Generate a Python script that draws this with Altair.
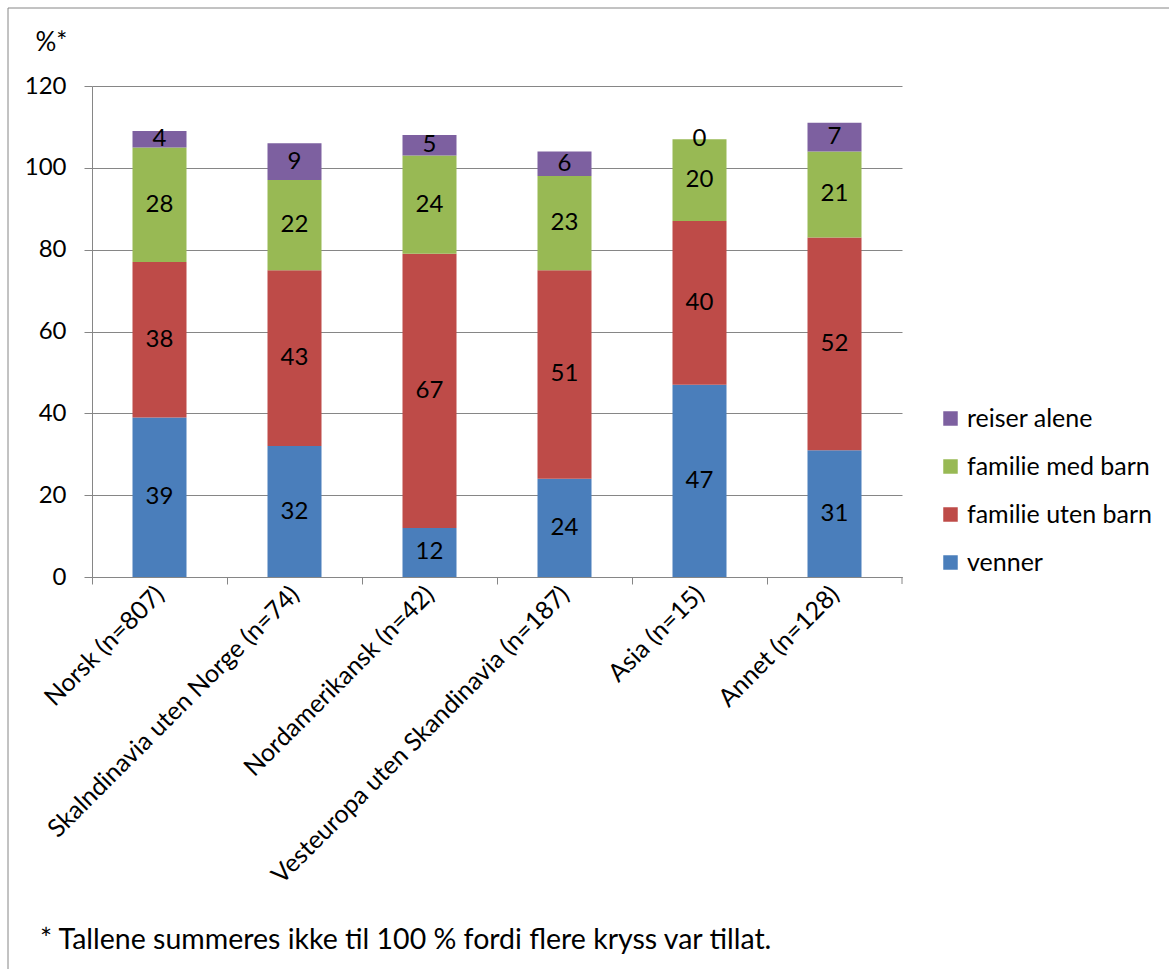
import altair as alt
import pandas as pd

categories = ["Norsk (n=807)", "Skalndinavia uten Norge (n=74)", "Nordamerikansk (n=42)",
              "Vesteuropa uten Skandinavia (n=187)", "Asia (n=15)", "Annet (n=128)"]
series = ["venner", "familie uten barn", "familie med barn", "reiser alene"]
venner = [39, 32, 12, 24, 47, 31]
uten_barn = [38, 43, 67, 51, 40, 52]
med_barn = [28, 22, 24, 23, 20, 21]
alene = [4, 9, 5, 6, 0, 7]
colors = {"venner": "#4A7EBB", "familie uten barn": "#BE4B48",
          "familie med barn": "#98B954", "reiser alene": "#7D60A0"}
footnote = "* Tallene summeres ikke til 100 % fordi flere kryss var tillat."
y_ticks = [0, 20, 40, 60, 80, 100, 120]

rows = []
values = [venner, uten_barn, med_barn, alene]
for ci, cat in enumerate(categories):
    base = 0
    for si, s in enumerate(series):
        v = values[si][ci]
        rows.append({"kategori": cat, "gruppe": s, "verdi": v, "rekke": si,
                     "y0": base, "y1": base + v, "mid": base + v / 2})
        base += v
df = pd.DataFrame(rows)

FONT = "Lato"
W, H = 810, 491
legend_order = list(reversed(series))

x_enc = alt.X("kategori:N", sort=categories, title=None,
              scale=alt.Scale(paddingInner=0.6, paddingOuter=0.3),
              axis=alt.Axis(labelAngle=-45, labelAlign="right", labelBaseline="middle",
                            labelFontSize=25, labelFont=FONT, labelColor="black",
                            labelPadding=6, labelLimit=700,
                            bandPosition=0.5, tickOffset=-67.5, labelOffset=67.5,
                            tickSize=7, tickColor="#868686", domainColor="#868686",
                            grid=False))
y_scale = alt.Scale(domain=[0, 120], nice=False)

bars = alt.Chart(df).mark_bar().encode(
    x=x_enc,
    y=alt.Y("y0:Q", scale=y_scale,
            axis=alt.Axis(values=y_ticks, title="%*", titleAngle=0, titleAlign="left",
                          titleBaseline="middle", titleX=-57, titleY=-44,
                          titleFontSize=26, titleFont=FONT, titleFontWeight="normal",
                          titleColor="black",
                          labelFontSize=24, labelFont=FONT, labelColor="black",
                          labelPadding=18, tickSize=8, tickColor="#868686",
                          domainColor="#868686", gridColor="#868686", grid=True)),
    y2="y1:Q",
    color=alt.Color("gruppe:N",
                    scale=alt.Scale(domain=legend_order,
                                    range=[colors[s] for s in legend_order]),
                    legend=alt.Legend(title=None, orient="none", legendX=846, legendY=320,
                                      symbolType="square", symbolSize=210,
                                      symbolStrokeWidth=0, labelFontSize=25,
                                      labelFont=FONT, labelColor="black",
                                      rowPadding=22, labelOffset=4, labelLimit=400)),
    order=alt.Order("rekke:Q"),
)

labels = alt.Chart(df).mark_text(fontSize=24, font=FONT, color="black").encode(
    x=alt.X("kategori:N", sort=categories),
    y=alt.Y("mid:Q", scale=y_scale),
    text="verdi:Q",
)

end_tick = alt.Chart(pd.DataFrame({"a": [0]})).mark_rule(color="#868686").encode(
    x=alt.value(W), y=alt.value(H), y2=alt.value(H + 7))

note = alt.Chart(pd.DataFrame({"t": [footnote]})).mark_text(
    fontSize=28.5, font=FONT, color="black", align="left", baseline="middle"
).encode(x=alt.value(40 - 92), y=alt.value(940 - 86), text="t:N")

border = alt.Chart(pd.DataFrame({"a": [0]})).mark_rect(
    fillOpacity=0, stroke="#868686", strokeWidth=1
).encode(x=alt.value(8 - 92), y=alt.value(8 - 86), x2=alt.value(1300), y2=alt.value(1100))

chart = alt.layer(border, bars, labels, end_tick, note).resolve_scale(y="shared").properties(
    width=W, height=H,
    padding={"left": 92, "top": 86, "right": 1169 - 92 - W, "bottom": 969 - 86 - H},
    autosize=alt.AutoSizeParams(type="none"),
    background="white",
).configure_view(stroke=None)

chart.save("out.html", embed_options={"renderer": "svg", "actions": False})
